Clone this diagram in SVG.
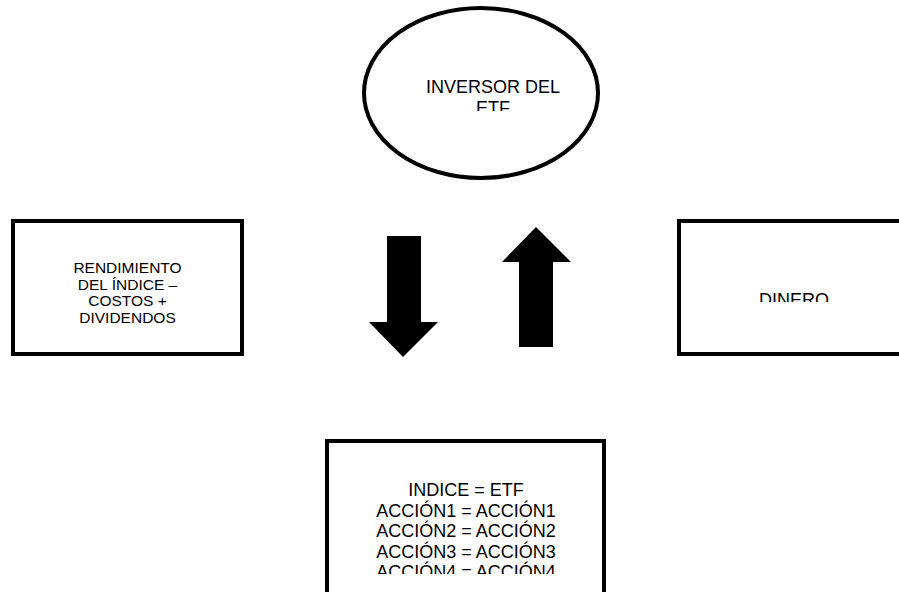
<svg xmlns="http://www.w3.org/2000/svg" width="899" height="592" viewBox="0 0 899 592">
<style>
.shape{fill:#fff;stroke:#000;stroke-width:4}
.t{font-family:"Liberation Sans",Arial,sans-serif;fill:#000;text-anchor:middle}
.arrow{fill:#000;stroke:none}
</style>
<defs>
<clipPath id="c1"><rect x="360" y="0" width="250" height="111"/></clipPath>
<clipPath id="c2"><rect x="679" y="0" width="229" height="302"/></clipPath>
<clipPath id="c3"><rect x="327" y="441" width="277" height="133"/></clipPath>
</defs>
<rect width="899" height="592" fill="#fff"/>
<g id="inversor">
<ellipse class="shape" cx="481" cy="93" rx="117" ry="85"/>
<g clip-path="url(#c1)">
<text class="t" font-size="18" x="493" y="93">INVERSOR DEL</text>
<text class="t" font-size="18" x="493" y="114">ETF</text>
</g>
</g>
<g id="rendimiento">
<rect class="shape" x="13" y="221" width="229" height="133"/>
<text class="t" font-size="15.5"><tspan x="127.5" y="272.5">RENDIMIENTO</tspan><tspan x="127.5" y="289.5">DEL ÍNDICE –</tspan><tspan x="127.5" y="306">COSTOS +</tspan><tspan x="127.5" y="322.5">DIVIDENDOS</tspan></text>
</g>
<g id="dinero">
<rect class="shape" x="679" y="221" width="229" height="133"/>
<g clip-path="url(#c2)">
<text class="t" font-size="18" x="794" y="306">DINERO</text>
</g>
</g>
<g id="indice">
<rect class="shape" x="327" y="441" width="277" height="170"/>
<g clip-path="url(#c3)">
<text class="t" font-size="18"><tspan x="466" y="496">INDICE = ETF</tspan><tspan x="466" y="517">ACCIÓN1 = ACCIÓN1</tspan><tspan x="466" y="537.3">ACCIÓN2 = ACCIÓN2</tspan><tspan x="466" y="557.7">ACCIÓN3 = ACCIÓN3</tspan><tspan x="466" y="578">ACCIÓN4 = ACCIÓN4</tspan></text>
</g>
</g>
<g id="connectors">
<polygon class="arrow" points="387,236 421,236 421,322 438,322 403,357 369,322 387,322"/>
<polygon class="arrow" points="536,227 571,262 553,262 553,347 519,347 519,262 502,262"/>
</g>
</svg>
